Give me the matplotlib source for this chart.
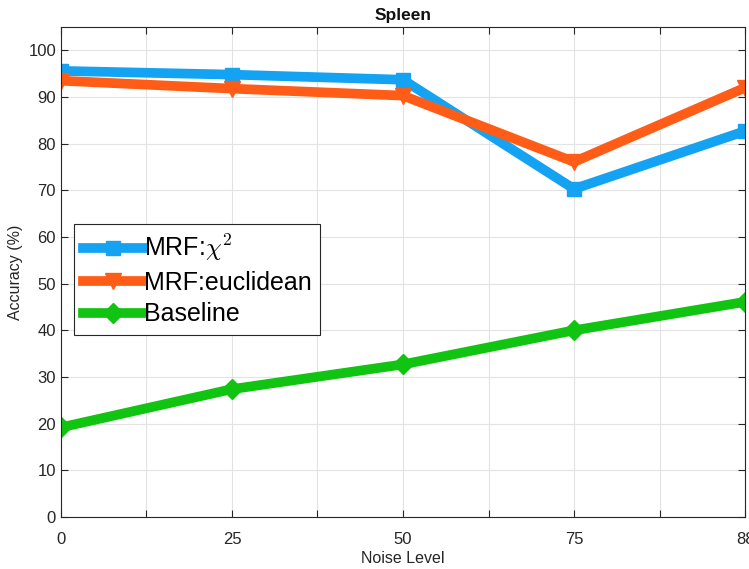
import matplotlib
matplotlib.use('Agg')
from matplotlib import pyplot as plt

# positions are equally spaced in the original, labels say 0..88
noise_labels = ['0', '25', '50', '75', '88']
x_pos = [0, 25, 50, 75, 100]

mrf_chi2 = [95.6, 94.8, 93.7, 70.3, 82.7]
mrf_euclidean = [93.5, 91.8, 90.3, 76.1, 92.0]
baseline = [19.2, 27.4, 32.7, 40.0, 46.1]

plt.rcParams['font.family'] = ['Liberation Sans', 'DejaVu Sans']
plt.rcParams['mathtext.fontset'] = 'cm'


def build_graphics(output_png):
    fig = plt.figure(figsize=(7.49, 5.69), dpi=100)
    ax = fig.add_axes([0.0814, 0.0914, 0.9133, 0.8611])

    ax.plot(x_pos, mrf_chi2, color='#14A3F2', marker='s', markersize=10,
            linewidth=7, label=r'MRF:$\chi^2$')
    ax.plot(x_pos, mrf_euclidean, color='#FF5D17', marker='v', markersize=12,
            linewidth=7, label='MRF:euclidean')
    ax.plot(x_pos, baseline, color='#12C412', marker='D', markersize=10,
            linewidth=7, label='Baseline')

    ax.set_xlim(0, 100)
    ax.set_ylim(0, 105)
    ax.set_xticks([i * 12.5 for i in range(9)])
    ax.set_xticklabels(['' if i % 2 else noise_labels[i // 2] for i in range(9)])
    ax.set_yticks(range(0, 101, 10))

    ax.tick_params(direction='in', top=True, right=True, labelsize=12,
                   colors='#262626', length=5, width=0.8)
    ax.tick_params(axis='x', pad=11)
    ax.grid(True, color='#e3e3e3', linewidth=0.8)
    for sp in ax.spines.values():
        sp.set_color('#262626')
        sp.set_linewidth(0.8)

    ax.set_xlabel('Noise Level', fontsize=11.5, color='#262626', labelpad=3)
    ax.set_ylabel('Accuracy (%)', fontsize=11.5, color='#262626', labelpad=4)
    ax.set_title('Spleen', fontsize=12.5, fontweight='bold', color='#111111', pad=5)

    leg = ax.legend(loc='upper left', bbox_to_anchor=(0.019, 0.598), borderaxespad=0,
                    fontsize=18, handlelength=2.4, handletextpad=0.05,
                    labelspacing=0.3, borderpad=0.35, fancybox=False, framealpha=1)
    leg.get_frame().set_edgecolor('#262626')
    leg.get_frame().set_linewidth(0.8)

    fig.savefig(output_png, dpi=100)


def main():
    build_graphics('out.png')


if __name__ == "__main__":
    main()
